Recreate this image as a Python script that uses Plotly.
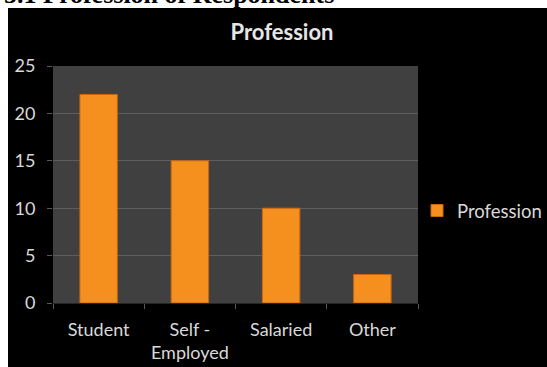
import plotly.graph_objects as go

categories = ["Student", "Self -<br>Employed", "Salaried", "Other"]
counts = [22, 15, 10, 3]
series_name = "Profession"
y_ticks = [0, 5, 10, 15, 20, 25]

W, H = 547, 367
L, R, T, B = 53, 418, 66, 303  # plot area in pixels


def px_x(px):
    return (px - L) / (R - L)


def px_y(py):
    return (B - py) / (B - T)


FONT = "Lato, 'Open Sans', sans-serif"
TXT = "#d9d9d9"

fig = go.Figure(
    go.Bar(
        x=categories,
        y=counts,
        name=series_name,
        marker=dict(color="#f5901f", line=dict(color="#c9680e", width=1)),
        width=0.41,
        showlegend=True,
    )
)

fig.update_layout(
    width=W,
    height=H,
    margin=dict(l=L, r=W - R, t=T, b=H - B, pad=0, autoexpand=False),
    paper_bgcolor="#000000",
    plot_bgcolor="#404040",
    font=dict(family=FONT, size=18, color=TXT),
    title=dict(
        text="<b>Profession</b>",
        x=px_x(282),
        xref="paper",
        xanchor="center",
        y=1 - 32 / H,
        yanchor="middle",
        font=dict(family=FONT, size=22, color="#e6e6e6"),
    ),
    legend=dict(
        x=px_x(417),
        xanchor="left",
        y=px_y(211),
        yanchor="middle",
        bgcolor="rgba(0,0,0,0)",
        font=dict(family=FONT, size=18.5, color=TXT),
        itemwidth=30,
    ),
    showlegend=True,
    xaxis=dict(
        type="category",
        automargin=False,
        showgrid=False,
        ticks="outside",
        tickson="boundaries",
        ticklen=5,
        tickcolor="#595959",
        showline=True,
        linecolor="#262626",
        ticklabelstandoff=10,
        tickfont=dict(family=FONT, size=18, color=TXT),
    ),
    yaxis=dict(
        automargin=False,
        range=[0, 25],
        tickvals=y_ticks,
        showgrid=True,
        gridcolor="#5e5e5e",
        gridwidth=1,
        zeroline=False,
        ticks="outside",
        ticklen=5,
        tickcolor="#595959",
        ticklabelstandoff=8,
        tickfont=dict(family=FONT, size=18, color=TXT),
    ),
    shapes=[
        # white page strips around the chart box
        dict(type="rect", xref="paper", yref="paper",
             x0=px_x(-5), x1=px_x(8), y0=px_y(372), y1=px_y(-5),
             fillcolor="white", line=dict(width=0), layer="below"),
        dict(type="rect", xref="paper", yref="paper",
             x0=px_x(-5), x1=px_x(552), y0=px_y(8), y1=px_y(-5),
             fillcolor="white", line=dict(width=0), layer="below"),
    ],
    annotations=[
        dict(
            text="<b>5.1 Profession of Respondents</b>",
            xref="paper", yref="paper",
            x=px_x(2), xanchor="left",
            y=px_y(11), yanchor="bottom",
            showarrow=False,
            font=dict(family="'Liberation Serif', 'Times New Roman', serif", size=26, color="#000000"),
        )
    ],
)

fig.write_html("out.html")
